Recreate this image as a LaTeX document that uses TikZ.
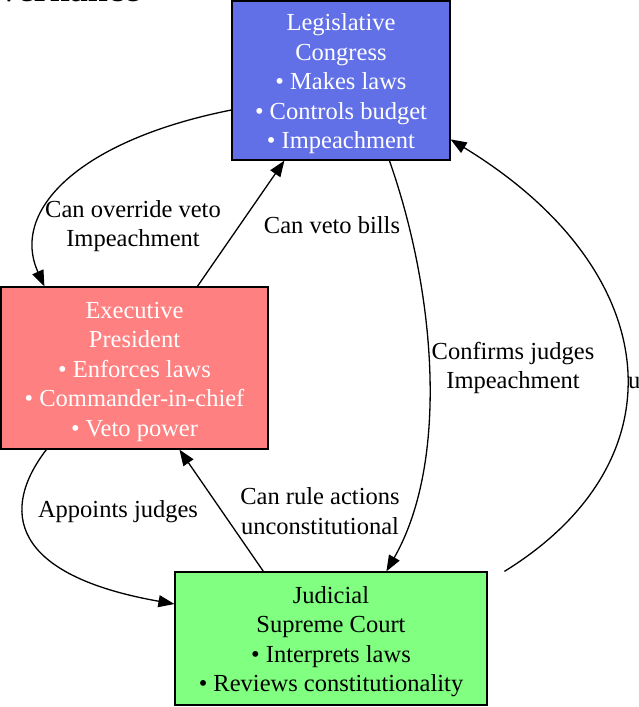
\documentclass[tikz,border=0pt]{standalone}
\usepackage{fontspec}
\setmainfont{Liberation Serif}
\usetikzlibrary{arrows.meta,calc}
\definecolor{legblue}{RGB}{98,112,232}
\definecolor{exred}{RGB}{255,128,128}
\definecolor{judgreen}{RGB}{128,255,128}
\newcommand{\tstrut}{\rule{0pt}{23.5pt}}
\begin{document}
\begin{tikzpicture}[x=1pt,y=-1pt,
  branch/.style={draw=black, line width=1.2pt, rectangle, inner sep=0pt, align=center,
     font=\fontsize{24.5}{29.5}\selectfont},
  lbl/.style={inner sep=0pt, align=center, font=\fontsize{24.5}{29.5}\selectfont},
  conn/.style={draw=black, line width=1.3pt, -{Triangle[length=16pt,width=12pt]}}]
\useasboundingbox (0,0) rectangle (638,707);
\node[inner sep=0pt, anchor=base east, font=\fontsize{36}{40}\selectfont\bfseries] (title) at (140,1) {vernance};

\node[branch, fill=legblue, text=white, minimum width=218pt, minimum height=159pt] (leg) at (341,80.5)
  {\tstrut Legislative\\Congress\\• Makes laws\\• Controls budget\\• Impeachment};
\node[branch, fill=exred, text=white, minimum width=267pt, minimum height=162pt] (exe) at (134.5,368)
  {\tstrut Executive\\President\\• Enforces laws\\• Commander-in-chief\\• Veto power};
\node[branch, fill=judgreen, text=black, minimum width=312pt, minimum height=133pt] (jud) at (331,638.5)
  {\tstrut Judicial\\Supreme Court\\• Interprets laws\\• Reviews constitutionality};

% Legislative -> Executive
\draw[conn] ($(leg.west)+(0,29.5)$) .. controls (80,140) and (10,210) .. ($(exe.north west)+(44,0)$);
% Executive -> Legislative
\draw[conn] ($(exe.north west)+(197,0)$) -- ($(leg.south west)+(53,0)$);
% Legislative -> Judicial
\draw[conn] ($(leg.south west)+(158,0)$) .. controls (435,290) and (450,460) .. ($(jud.north west)+(212,0)$);
% Judicial -> Legislative
\draw[conn] ($(jud.north west)+(330,0)$) .. controls (685,460) and (665,270) .. ($(leg.north east)+(0,139)$);
% Executive -> Judicial
\draw[conn] ($(exe.south west)+(46,0)$) .. controls (0,510) and (10,575) .. ($(jud.west)+(0,-34.5)$);
% Judicial -> Executive
\draw[conn] ($(jud.north west)+(89,0)$) -- ($(exe.south west)+(179,0)$);

\node[lbl] (l1) at (133,226) {Can override veto\\Impeachment};
\node[lbl] (l2) at (332,225) {Can veto bills};
\node[lbl] (l3) at (513,368) {Confirms judges\\Impeachment};
\node[lbl, anchor=west] (l4) at (628,383) {u};
\node[lbl] (l5) at (118,512) {Appoints judges};
\node[lbl] (l6) at (320,511) {Can rule actions\\unconstitutional};
\end{tikzpicture}
\end{document}
